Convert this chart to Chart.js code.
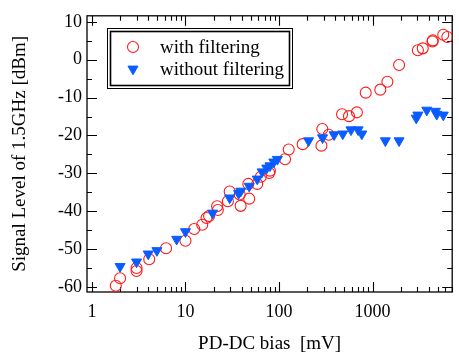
<!DOCTYPE html>
<html>
<head>
<meta charset="utf-8">
<script src="https://cdn.jsdelivr.net/npm/chart.js@4/dist/chart.umd.min.js"></script>
<style>
  html, body { margin: 0; padding: 0; background: #fff; }
  #wrap { width: 459px; height: 354px; }
</style>
</head>
<body>
<div id="wrap"><canvas id="chart"></canvas></div>
<script>
// Valores
const withX = [1.8, 2.0, 3.0, 3.0, 4.1, 6.2, 10, 12.4, 15.1, 16.8, 17.9, 21.8, 22.2, 28.4, 29.7, 38, 38.9, 47, 48, 58.5, 64, 78.5, 80, 116, 127, 179, 284, 290, 340, 472, 560, 680, 845, 1210, 1440, 1920, 3050, 3440, 4370, 4400, 5700, 6300];
const withY = [-59.7, -57.7, -55, -55.8, -52.7, -49.8, -47.8, -44.7, -43.6, -41.8, -41.3, -38.7, -39.7, -37.4, -34.8, -35.6, -38.6, -32.8, -36.7, -32.8, -30.9, -29.9, -29.3, -26.3, -23.7, -22.3, -22.7, -18.3, -19.8, -14.4, -14.9, -13.9, -8.7, -7.9, -5.8, -1.4, 2.5, 3.0, 4.8, 5.1, 6.6, 6.0];
const withoutX = [2.0, 3.0, 4.0, 4.95, 8.05, 10, 19.5, 29.7, 37, 39, 48, 58.5, 66, 74, 80, 88, 96, 207, 292, 388, 480, 588, 700, 768, 1370, 1920, 2930, 3050, 3800, 4700, 4850, 5700];
const withoutY = [-54.6, -53.4, -51.3, -50.4, -47.4, -45.4, -40.5, -36.5, -35.3, -34.7, -33.4, -31.5, -29.6, -28.6, -28, -27, -26.3, -21.4, -20.6, -19.8, -19.6, -18.5, -18.5, -19.6, -21.4, -21.4, -15.4, -14.6, -13.3, -13.6, -14.4, -14.6];
const xTicks = [1, 10, 100, 1000];
const yTicks = [-60, -50, -40, -30, -20, -10, 0, 10];
const seriesNames = ['with filtering', 'without filtering'];

const serif = 'Liberation Serif, Times New Roman, serif';
const red = '#ff1a1a';
const blue = '#0b5cff';

function toPoints(xs, ys) {
    return xs.map((x, i) => ({ x: x, y: ys[i] }));
}

// Moldura, marcas internas nos quatro lados e legenda com borda dupla
const framePlugin = {
    id: 'frame',
    beforeDatasetsDraw(chart) {
        const ctx = chart.ctx;
        const a = chart.chartArea;
        const xs = chart.scales.x;
        const ys = chart.scales.y;
        ctx.save();
        ctx.strokeStyle = '#000';
        ctx.lineWidth = 1.3;
        ctx.strokeRect(a.left, a.top, a.right - a.left, a.bottom - a.top);

        ctx.lineWidth = 1.1;
        ctx.beginPath();
        // eixo x: maiores e menores
        for (let d = 1; d <= 1000; d *= 10) {
            for (let m = 1; m <= 9; m++) {
                const v = d * m;
                if (v < xs.min || v > xs.max) continue;
                const px = Math.round(xs.getPixelForValue(v)) + 0.5;
                const len = m === 1 ? 10 : 5;
                ctx.moveTo(px, a.bottom); ctx.lineTo(px, a.bottom - len);
                ctx.moveTo(px, a.top); ctx.lineTo(px, a.top + len);
            }
        }
        // eixo y: a cada 5
        for (let v = -60; v <= 10; v += 5) {
            const py = Math.round(ys.getPixelForValue(v)) + 0.5;
            const len = v % 10 === 0 ? 10 : 5;
            ctx.moveTo(a.left, py); ctx.lineTo(a.left + len, py);
            ctx.moveTo(a.right, py); ctx.lineTo(a.right - len, py);
        }
        ctx.stroke();
        ctx.restore();
    },
    afterDraw(chart) {
        const ctx = chart.ctx;
        ctx.save();
        ctx.fillStyle = '#fff';
        ctx.fillRect(107, 28, 186, 61);
        ctx.strokeStyle = '#000';
        ctx.lineWidth = 1;
        ctx.strokeRect(107.5, 28.5, 185, 60);
        ctx.lineWidth = 1.6;
        ctx.strokeRect(110.5, 31.5, 179, 54);

        const sets = chart.data.datasets;
        const rows = [47, 69];
        sets.forEach((ds, i) => {
            ctx.fillStyle = ds.backgroundColor;
            ctx.strokeStyle = ds.borderColor;
            ctx.lineWidth = ds.borderWidth;
            Chart.helpers.drawPoint(ctx, {
                pointStyle: ds.pointStyle,
                radius: ds.pointRadius,
                rotation: ds.pointRotation || 0,
                borderWidth: ds.borderWidth
            }, 133, rows[i]);
        });
        ctx.fillStyle = '#000';
        ctx.font = '19px ' + serif;
        ctx.textBaseline = 'alphabetic';
        ctx.fillText(sets[0].label, 160, 53);
        ctx.fillText(sets[1].label, 160, 75);
        ctx.restore();
    }
};

const ctx = document.getElementById('chart').getContext('2d');
new Chart(ctx, {
    type: 'scatter',
    data: {
        datasets: [{
            label: seriesNames[0],
            data: toPoints(withX, withY),
            pointStyle: 'circle',
            pointRadius: 5.5,
            borderWidth: 1.1,
            borderColor: red,
            backgroundColor: 'transparent',
            order: 2
        }, {
            label: seriesNames[1],
            data: toPoints(withoutX, withoutY),
            pointStyle: 'triangle',
            pointRotation: 180,
            pointRadius: 5.8,
            borderWidth: 1,
            borderColor: blue,
            backgroundColor: blue,
            order: 1
        }]
    },
    options: {
        responsive: true,
        maintainAspectRatio: false,
        animation: false,
        events: [],
        layout: { padding: { top: 11, right: 1, left: 0, bottom: 0 } },
        plugins: {
            legend: { display: false },
            tooltip: { enabled: false }
        },
        scales: {
            x: {
                type: 'logarithmic',
                min: 0.886,
                max: 7100,
                grid: { display: false, drawTicks: false },
                border: { display: false },
                afterBuildTicks: scale => { scale.ticks = xTicks.map(v => ({ value: v })); },
                afterFit: scale => { scale.height = 62; },
                ticks: {
                    autoSkip: false,
                    maxRotation: 0,
                    padding: 9,
                    color: '#000',
                    font: { family: serif, size: 18 },
                    callback: v => String(v)
                },
                title: {
                    display: true,
                    text: 'PD-DC bias  [mV]',
                    color: '#000',
                    font: { family: serif, size: 19 },
                    padding: { top: 0, bottom: -1 }
                }
            },
            y: {
                min: -61.35,
                max: 11.6,
                grid: { display: false, drawTicks: false },
                border: { display: false },
                afterBuildTicks: scale => { scale.ticks = yTicks.map(v => ({ value: v })); },
                afterFit: scale => { scale.width = 87; },
                ticks: {
                    padding: 5,
                    color: '#000',
                    font: { family: serif, size: 18 },
                    callback: v => String(v)
                },
                title: {
                    display: true,
                    text: 'Signal Level of 1.5GHz [dBm]',
                    color: '#000',
                    font: { family: serif, size: 19 },
                    padding: { top: 9, bottom: 0 }
                }
            }
        }
    },
    plugins: [framePlugin]
});
</script>
</body>
</html>
